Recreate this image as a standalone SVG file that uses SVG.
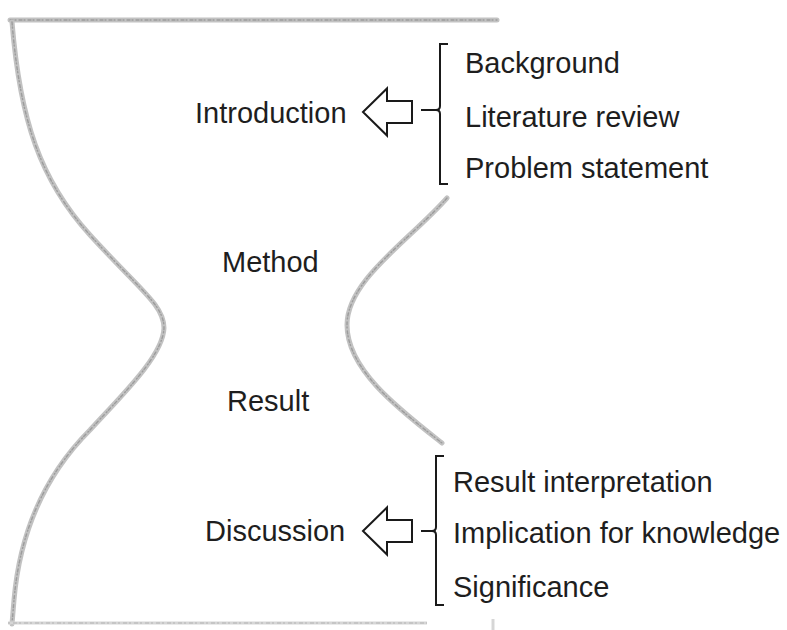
<svg xmlns="http://www.w3.org/2000/svg" width="787" height="630" viewBox="0 0 787 630">
  <style>
    .t { font-family: "Liberation Sans", Arial, Helvetica, sans-serif; font-size: 29px; fill: #1e1e1e; }
    .outline { fill: none; stroke: #c2c2c2; stroke-width: 5; stroke-linecap: round; }
    .grain { fill: none; stroke: #9c9c9c; stroke-width: 1.4; stroke-dasharray: 3 2 1 3; stroke-linecap: round; }
    .faint { fill: none; stroke: #d6d6d6; stroke-width: 3; }
    .faintgrain { fill: none; stroke: #b4b4b4; stroke-width: 1; stroke-dasharray: 2 3 4 2; }
    .brk { fill: none; stroke: #1a1a1a; stroke-width: 2; stroke-linejoin: miter; }
    .arrow { fill: #ffffff; stroke: #1a1a1a; stroke-width: 2; stroke-linejoin: miter; }
  </style>
  <defs>
    <path id="arrowShape" d="M0,0 L24,-23.5 L24,-11 L49,-11 L49,11 L24,11 L24,23.5 Z"/>
  </defs>
  <rect width="787" height="630" fill="#ffffff"/>

  <!-- hourglass outline -->
  <g id="outline">
    <path class="outline" d="M10,20 L497,20"/>
    <path class="grain" d="M10,20 L497,20"/>
    <path class="outline" d="M12,22 C20,120 40,180 90,235 C140,290 164,305 164,328 C163,356 122,395 90,430 C45,475 20,530 14,600 L12,624"/>
    <path class="grain" d="M12,22 C20,120 40,180 90,235 C140,290 164,305 164,328 C163,356 122,395 90,430 C45,475 20,530 14,600 L12,624"/>
    <path class="outline" d="M447,198 C410,240 347,280 347,325 C347,370 400,410 442,443"/>
    <path class="grain" d="M447,198 C410,240 347,280 347,325 C347,370 400,410 442,443"/>
    <path class="faint" d="M8,623 L427,623"/>
    <path class="faintgrain" d="M8,623 L427,623"/>
    <path class="faint" d="M493,619 L493,630"/>
  </g>

  <!-- nodes -->
  <g id="introduction">
    <text class="t" x="195" y="123">Introduction</text>
  </g>
  <g id="intro-items">
    <path class="brk" d="M448,44 L440,44 L440,106 Q440,110 436,110 Q440,110 440,114 L440,184 L448,184"/>
    <text class="t" x="465" y="73">Background</text>
    <text class="t" x="465" y="127">Literature review</text>
    <text class="t" x="465" y="178">Problem statement</text>
  </g>
  <g id="method">
    <text class="t" x="222" y="272">Method</text>
  </g>
  <g id="result">
    <text class="t" x="227" y="411">Result</text>
  </g>
  <g id="discussion">
    <text class="t" x="205" y="541">Discussion</text>
  </g>
  <g id="discussion-items">
    <path class="brk" d="M444,456 L436,456 L436,527 Q436,531 432,531 Q436,531 436,535 L436,605 L444,605"/>
    <text class="t" x="453" y="492">Result interpretation</text>
    <text class="t" x="453" y="543">Implication for knowledge</text>
    <text class="t" x="453" y="597">Significance</text>
  </g>

  <!-- connectors -->
  <g id="connectors">
    <use href="#arrowShape" class="arrow" transform="translate(363,112)"/>
    <path class="brk" d="M421,110 L437,110"/>
    <use href="#arrowShape" class="arrow" transform="translate(363,531)"/>
    <path class="brk" d="M421,531 L433,531"/>
  </g>
</svg>
